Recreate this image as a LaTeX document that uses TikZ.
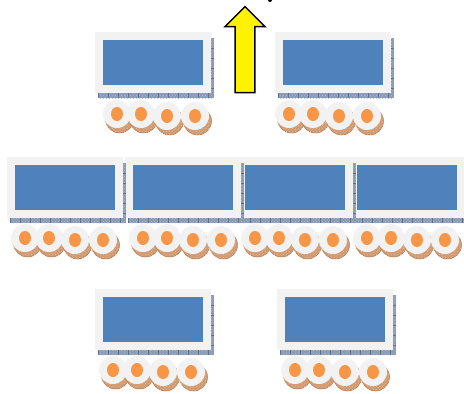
\documentclass[tikz,border=0pt]{standalone}
\usepackage{xcolor}
\usetikzlibrary{patterns,shapes.arrows,shapes.geometric}
\definecolor{deskgray}{HTML}{F2F2F2}
\definecolor{deskblue}{HTML}{4F81BD}
\definecolor{edgeblue}{HTML}{8A9BB6}
\definecolor{edgedark}{HTML}{5F7290}
\definecolor{chairorange}{HTML}{F79646}
\definecolor{chairbrown}{HTML}{D29A70}
\definecolor{chairdark}{HTML}{B5784A}
\tikzset{
    desktop/.style={fill=deskgray, minimum width=116pt, minimum height=61pt, inner sep=0pt, outer sep=0pt, anchor=north west},
    deskblock/.style={fill=deskblue, minimum width=100pt, minimum height=45pt, inner sep=0pt, outer sep=0pt},
    chairtop/.style={circle, fill=deskgray, minimum size=28pt, inner sep=0pt, outer sep=0pt},
    chairback/.style={circle, fill=chairbrown, draw=chairdark, line width=0.5pt, postaction={pattern=crosshatch dots, pattern color=chairbrown!70!white}, minimum size=28pt, inner sep=0pt, outer sep=0pt},
    chairseat/.style={ellipse, fill=chairorange, minimum width=12pt, minimum height=14pt, inner sep=0pt, outer sep=0pt},
    deskedge/.style={fill=edgeblue, postaction={pattern=crosshatch dots, pattern color=edgeblue!70!white}},
    deskticks/.style={edgedark, line width=0.6pt},
    uparrow/.style={single arrow, draw=black, fill=yellow, line width=1.5pt, shape border rotate=90, single arrow head extend=10pt, single arrow tip angle=90, minimum width=40pt, minimum height=86pt, inner sep=9pt, outer sep=0pt}
}
\newcommand{\chairat}[3]{
    \node[chairback] (#1back) at (#2+2.5,#3+5) {};
    \node[chairtop] (#1top) at (#2,#3) {};
    \node[chairseat] (#1seat) at (#1top.center) {};
}
% name, desk x, desk y, first chair x, chair y
\newcommand{\deskgroup}[5]{
    \fill[deskedge] (#2+3,#3+61) rectangle (#2+119,#3+66);
    \fill[deskedge] (#2+116,#3+6) rectangle (#2+119,#3+66);
    \foreach \tick in {0,10,...,110} {
        \draw[deskticks] (#2+3+\tick,#3+61) -- (#2+3+\tick,#3+66);
    }
    \foreach \tick in {16,26,...,56} {
        \draw[deskticks] (#2+116,#3+\tick) -- (#2+119,#3+\tick);
    }
    \node[desktop] (#1desk) at (#2,#3) {};
    \node[deskblock] (#1block) at (#1desk.center) {};
    \chairat{#1a}{#4}{#5}
    \chairat{#1b}{#4+24}{#5}
    \chairat{#1c}{#4+50}{#5+2}
    \chairat{#1d}{#4+78}{#5+2}
}
\begin{document}
\begin{tikzpicture}[x=1pt,y=-1pt]
    \useasboundingbox (0,0) rectangle (464,394);
    \clip (0,0) rectangle (464,394);

    \node[uparrow] (exit) at (245,54.5) {};
    \fill (270,0) circle (2);

    \deskgroup{ta}{95}{32}{117}{114}
    \deskgroup{tb}{275}{32}{289}{114}

    \deskgroup{md}{349}{157}{367}{238}
    \deskgroup{mc}{237}{157}{255}{238}
    \deskgroup{mb}{125}{157}{143}{238}
    \deskgroup{ma}{7}{157}{25}{238}

    \deskgroup{ba}{95}{289}{113}{370}
    \deskgroup{bb}{277}{289}{295}{370}
\end{tikzpicture}
\end{document}
